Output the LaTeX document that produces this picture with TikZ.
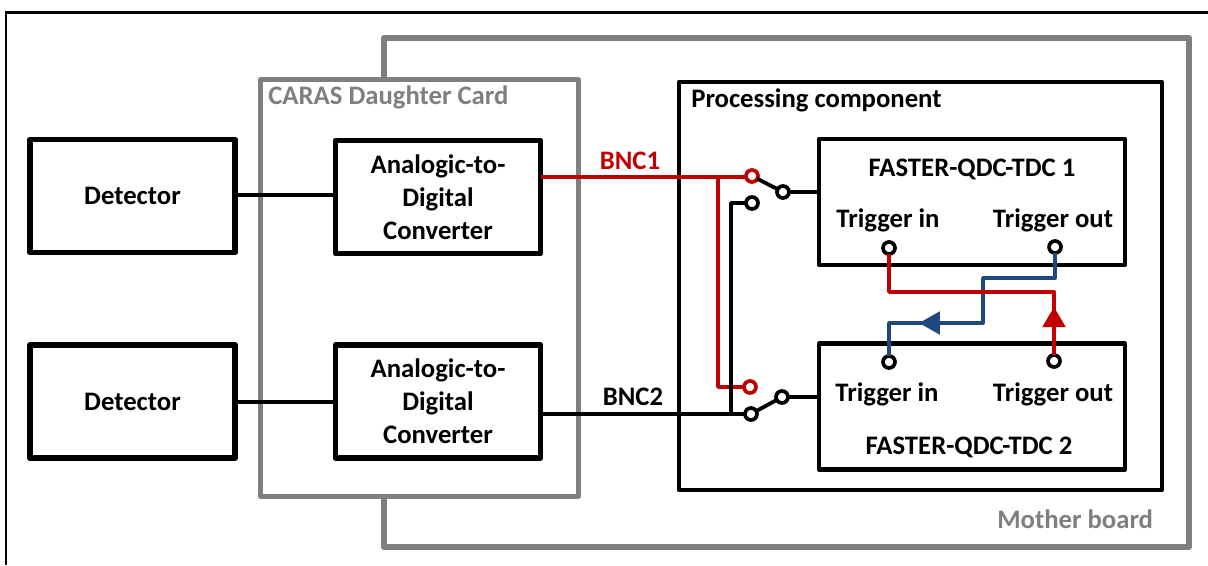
\documentclass[tikz,border=0pt]{standalone}
\usepackage{fontspec}
\setmainfont{Carlito}
\usetikzlibrary{arrows.meta}
\definecolor{boardgray}{HTML}{7F7F7F}
\definecolor{wirered}{HTML}{C00000}
\definecolor{wireblue}{HTML}{1F497D}
\tikzset{
  partbox/.style={draw=black,fill=white,line width=4.2pt,line join=round,inner sep=0pt,outer sep=0pt,minimum width=5.125cm,minimum height=2.825cm,align=center},
  tdcbox/.style={draw=black,line width=2.9pt,line join=round,inner sep=0pt,outer sep=0pt,minimum width=7.65cm,minimum height=3.15cm},
  boardbox/.style={draw=boardgray,line width=#1,line join=round,inner sep=0pt,outer sep=0pt},
  blackwire/.style={draw=black,line width=2.7pt,line join=round},
  redwire/.style={draw=wirered,line width=2.7pt,line join=round},
  bluewire/.style={draw=wireblue,line width=2.7pt,line join=round},
  terminal/.style={circle,draw=#1,fill=white,line width=2.6pt,inner sep=0pt,outer sep=0pt,minimum size=0.3cm},
  terminal/.default=black,
  boardlabel/.style={text=boardgray,inner sep=0pt},
  tag/.style={inner sep=0pt}
}
\begin{document}
\begin{tikzpicture}[x=0.025cm,y=-0.025cm,font=\fontsize{19}{23.4}\selectfont\bfseries]
\useasboundingbox (0,0) rectangle (1208,565);
\fill[white] (0,0) rectangle (1208,565);
\coordinate (frame-bottom) at (6,565);
\coordinate (frame-corner) at (6,12.5);
\coordinate (frame-right) at (1208,12.5);
\draw[black,line width=1.5pt] (frame-bottom) -- (frame-corner) -- (frame-right);
\node[boardbox=4.2pt,minimum width=20.125cm,minimum height=12.725cm] (mother-board) at (786.5,292.5) {};
\node[boardbox=3.6pt,fill=white,minimum width=7.925cm,minimum height=10.4cm] (daughter-card) at (419.5,288) {};
\node[draw=black,line width=2.9pt,line join=round,inner sep=0pt,outer sep=0pt,minimum width=12.075cm,minimum height=10.2cm] (processing) at (920.5,286) {};
\node[boardlabel,anchor=west] (mother-label) at (997,519) {Mother board};
\node[boardlabel,anchor=west] (daughter-label) at (268,97) {CARAS Daughter Card};
\node[tag,anchor=west] (processing-label) at (691,100) {Processing component};
\node[partbox] (detector-0) at (132.5,196) {Detector};
\node[partbox] (detector-1) at (132.5,401.5) {Detector};
\node[partbox] (adc-0) at (438,197) {Analogic-to-\\Digital\\Converter};
\node[partbox] (adc-1) at (438,401.5) {Analogic-to-\\Digital\\Converter};
\node[tdcbox] (tdc-0) at (972,202) {};
\node[tdcbox] (tdc-1) at (972,406.5) {};
\node[tag] (tdc-0-title) at (972,169) {FASTER-QDC-TDC 1};
\node[tag] (tdc-0-in-label) at (888,220) {Trigger in};
\node[tag] (tdc-0-out-label) at (1053,220) {Trigger out};
\node[tag] (tdc-1-title) at (969,447) {FASTER-QDC-TDC 2};
\node[tag] (tdc-1-in-label) at (887,394) {Trigger in};
\node[tag] (tdc-1-out-label) at (1053,394) {Trigger out};
\node[tag,text=wirered] (bnc-0) at (630,161) {BNC1};
\node[tag] (bnc-1) at (633,397) {BNC2};
\node[terminal=wirered] (switch-0-red) at (752,176) {};
\node[terminal] (switch-0-black) at (752,203) {};
\node[terminal] (switch-0-pivot) at (783,192) {};
\node[terminal=wirered] (switch-1-red) at (750,387) {};
\node[terminal] (switch-1-black) at (751,414) {};
\node[terminal] (switch-1-pivot) at (782,397) {};
\node[terminal] (tdc-0-in) at (889,248) {};
\node[terminal] (tdc-0-out) at (1055,247) {};
\node[terminal] (tdc-1-in) at (889,362) {};
\node[terminal] (tdc-1-out) at (1054,361) {};
\coordinate (red-branch) at (718,177);
\coordinate (red-corner) at (718,387);
\coordinate (black-corner-top) at (731,203);
\coordinate (black-corner-low) at (731,414);
\draw[blackwire] (detector-0.east |- 0,195) -- (adc-0.west |- 0,195);
\draw[blackwire] (detector-1.east |- 0,402) -- (adc-1.west |- 0,402);
\draw[redwire] (adc-0.east |- 0,177) -- (switch-0-red.west |- 0,177);
\draw[redwire] (red-branch) -- (red-corner) -- (switch-1-red);
\draw[blackwire] (adc-1.east |- 0,414) -- (switch-1-black);
\draw[blackwire] (switch-0-black) -- (black-corner-top) -- (black-corner-low);
\draw[blackwire] (switch-0-red) -- (switch-0-pivot);
\draw[blackwire] (switch-1-black) -- (switch-1-pivot);
\draw[blackwire] (switch-0-pivot) -- (tdc-0.west |- switch-0-pivot);
\draw[blackwire] (switch-1-pivot) -- (tdc-1.west |- switch-1-pivot);
\coordinate (blue-a) at (1055,278);
\coordinate (blue-b) at (983,278);
\coordinate (blue-c) at (983,323);
\coordinate (blue-d) at (889,323);
\coordinate (blue-tip) at (919,323);
\draw[bluewire] (tdc-0-out) -- (blue-a) -- (blue-b) -- (blue-c) -- (blue-d) -- (tdc-1-in);
\draw[bluewire,-{Triangle[length=0.52cm,width=0.56cm]}] (blue-c) -- (blue-tip);
\coordinate (red-a) at (1054,292);
\coordinate (red-b) at (889,292);
\coordinate (red-tip) at (1054,307);
\draw[redwire] (tdc-1-out) -- (red-a) -- (red-b) -- (tdc-0-in);
\draw[redwire,-{Triangle[length=0.5cm,width=0.56cm]}] (tdc-1-out) -- (red-tip);
\end{tikzpicture}
\end{document}
